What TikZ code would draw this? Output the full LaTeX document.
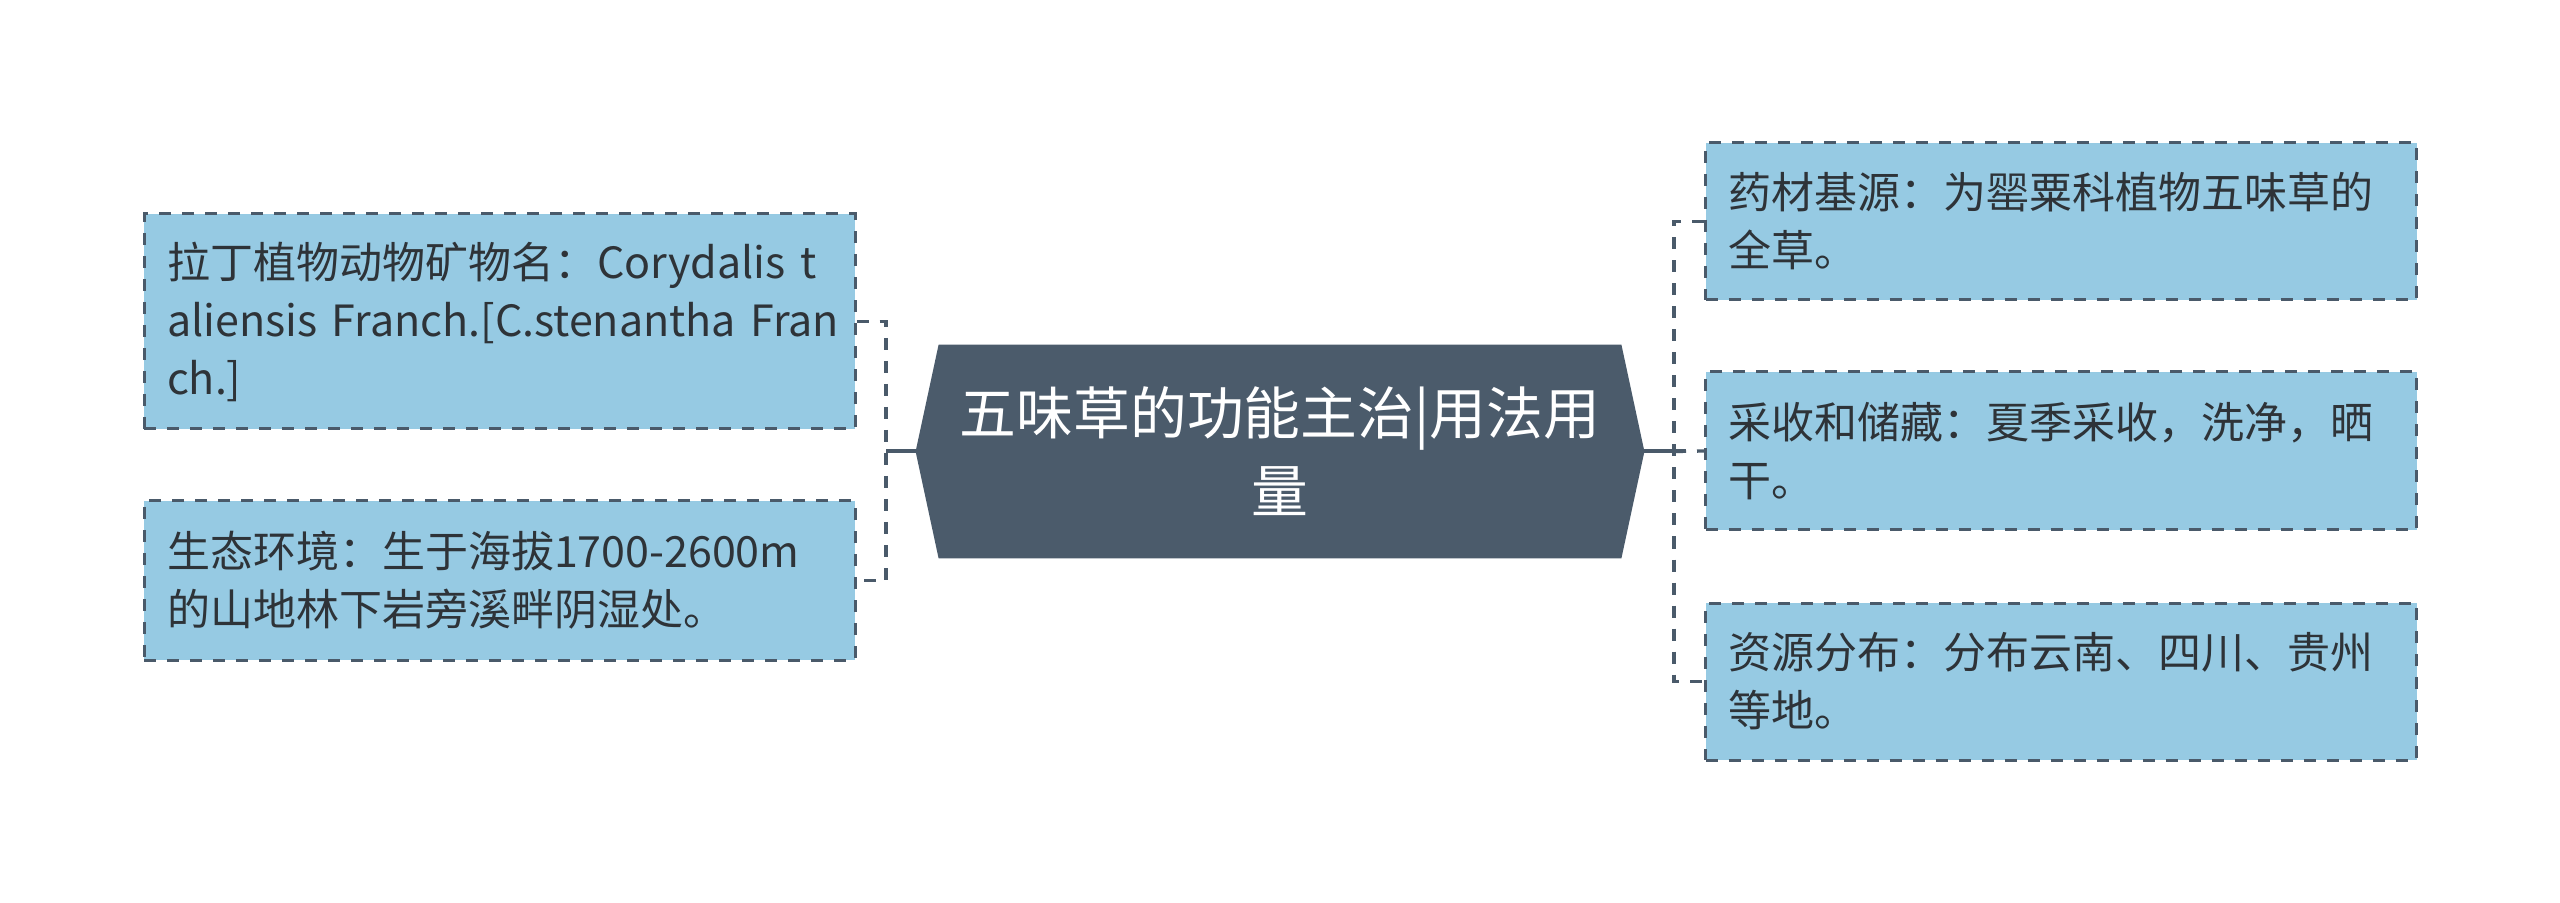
\documentclass[tikz,border=0pt]{standalone}
\usepackage{fontspec}
\setmainfont{Noto Sans CJK SC}
\definecolor{boxfill}{HTML}{96CAE3}
\definecolor{lineclr}{HTML}{4A5A6A}
\definecolor{hexfill}{HTML}{4B5B6B}
\definecolor{txt}{HTML}{2E3338}
\tikzset{
  leafbox/.style={draw=lineclr, line width=1.5pt, dash pattern=on 6pt off 5.5pt,
    fill=boxfill, text=txt, align=left, text width=332.5pt, inner xsep=11.5pt,
    inner ysep=0pt, font=\fontsize{21.5}{29}\selectfont},
  hubnode/.style={minimum width=341pt, minimum height=106.5pt, inner sep=0pt,
    text=white, align=center, font=\fontsize{28.4}{39}\selectfont},
  dashconn/.style={draw=lineclr, line width=1.65pt, dash pattern=on 6pt off 5.5pt},
  solidconn/.style={draw=lineclr, line width=2pt}
}
\begin{document}
\begin{tikzpicture}[x=0.5pt, y=-0.5pt]
\useasboundingbox (0,0) rectangle (2560,903);
% hub
\node[hubnode] (c) at (1280,451.5) {\phantom{五味草的功能主治|用法用}\\\phantom{量}};
\coordinate (cw) at ([xshift=-11.5pt]c.west);
\coordinate (ce) at ([xshift=11.5pt]c.east);
\fill[hexfill] (c.north west) -- (c.north east) -- (ce) -- (c.south east) -- (c.south west) -- (cw) -- cycle;
\node[hubnode] (ctext) at (c) {五味草的功能主治|用法用\\量};
% left leaves
\node[leafbox, minimum height=107.5pt] (l1) at (499.5,321.5)
  {\mbox{拉丁植物动物矿物名：Corydalis t}\\\mbox{aliensis Franch.[C.stenantha Fran}\\ch.]};
\node[leafbox, minimum height=79.5pt] (l2) at (499.5,580.5)
  {\mbox{生态环境：生于海拔1700-2600m}\\\mbox{的山地林下岩旁溪畔阴湿处。}};
% right leaves
\node[leafbox, minimum height=78.5pt] (r1) at (2061,221.5)
  {\mbox{药材基源：为罂粟科植物五味草的}\\全草。};
\node[leafbox, minimum height=79pt] (r2) at (2061,451)
  {\mbox{采收和储藏：夏季采收，洗净，晒}\\干。};
\node[leafbox, minimum height=78.5pt] (r3) at (2061,681.5)
  {\mbox{资源分布：分布云南、四川、贵州}\\等地。};
% connectors
\coordinate (lb) at (886,451.5);
\coordinate (rb) at (1674,451.5);
\draw[dashconn] (l1.east) -| (lb) |- (l2.east);
\draw[solidconn] (cw) -- (lb);
\draw[dashconn] (r1.west) -| (rb) |- (r3.west);
\draw[dashconn] (rb) -- (r2.west);
\draw[solidconn] (ce) -- ([xshift=6pt]rb);
\end{tikzpicture}
\end{document}
